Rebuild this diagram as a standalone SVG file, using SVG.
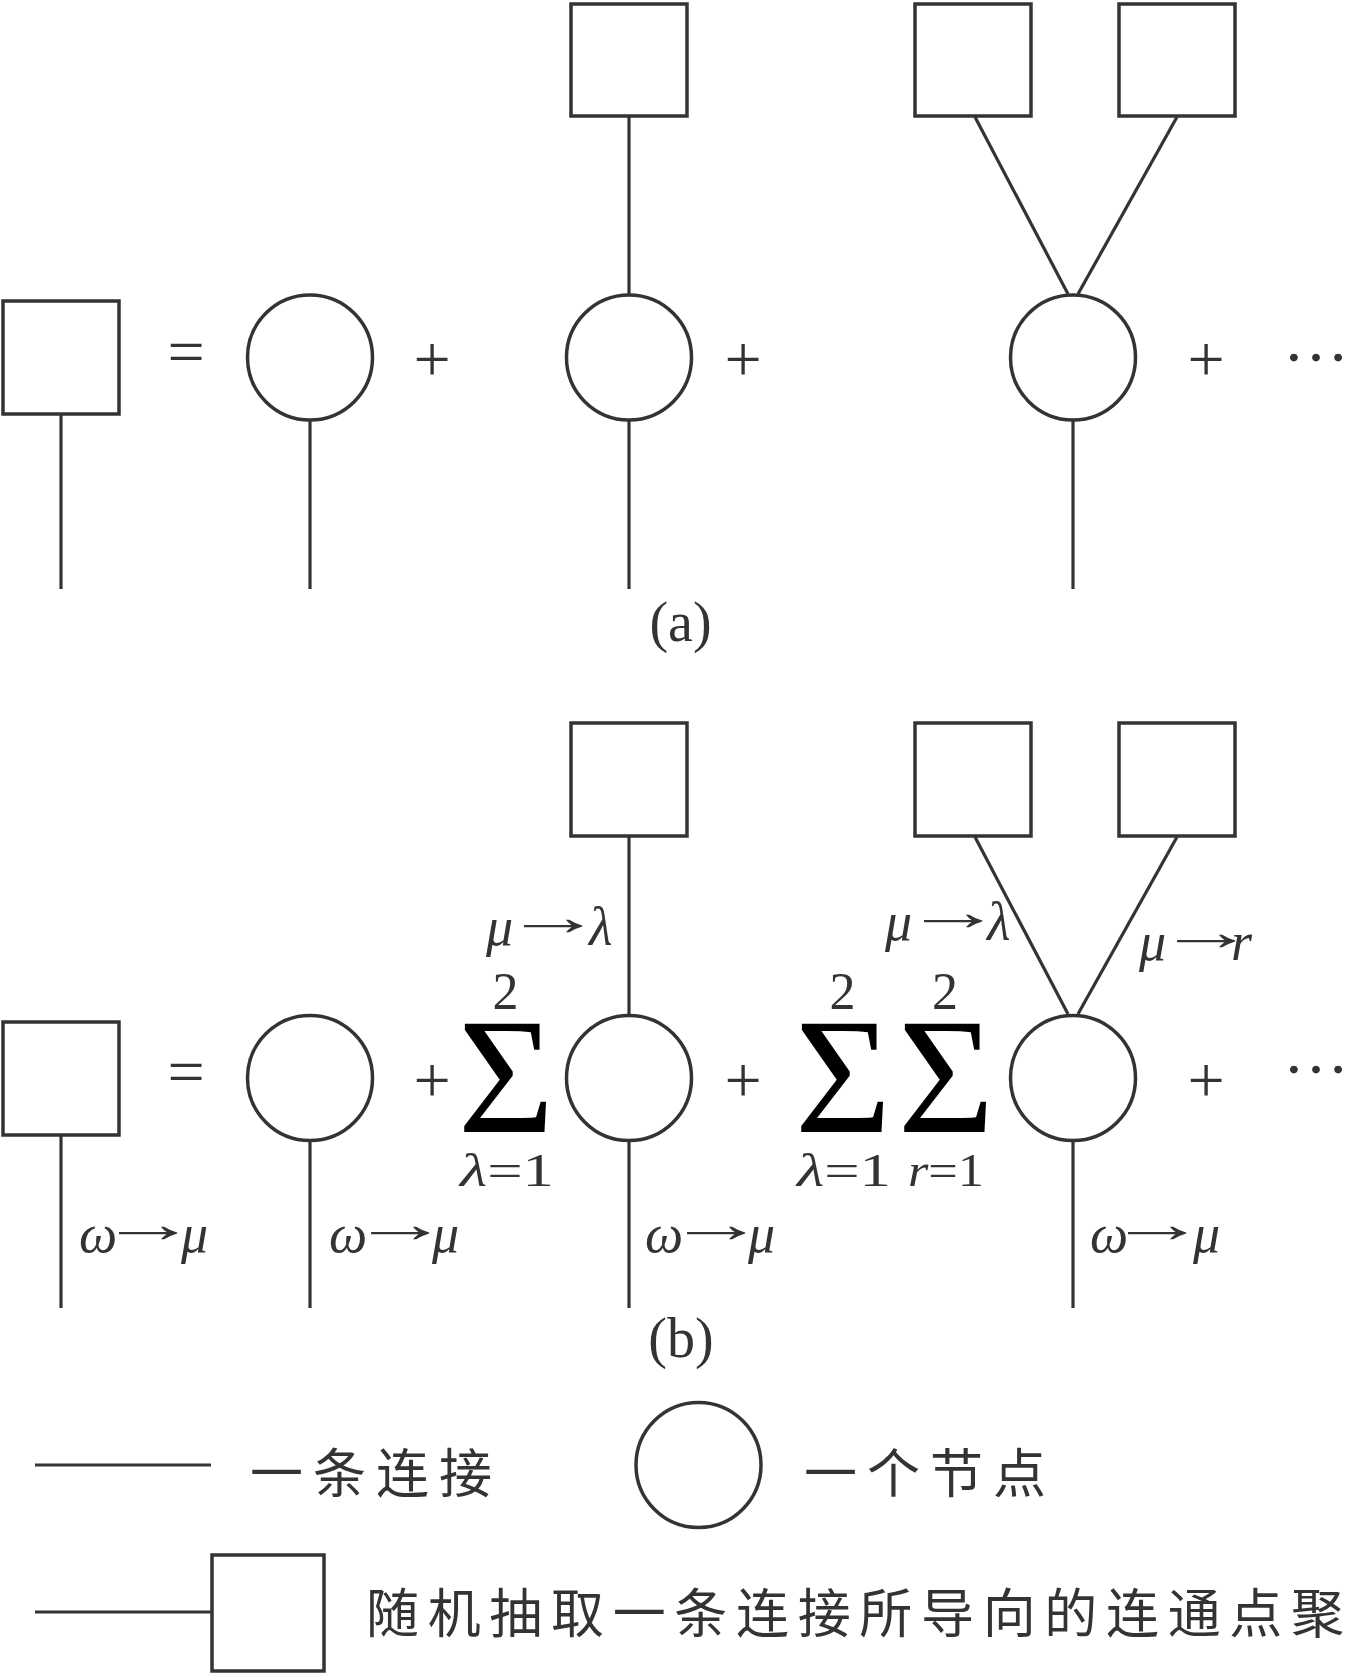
<svg xmlns="http://www.w3.org/2000/svg" width="1358" height="1674" viewBox="0 0 1358 1674">
<style>
.sh{fill:none;stroke:#333;stroke-width:3.5}
.ln{stroke:#333;stroke-width:3.2;fill:none}
.op{font-family:"Liberation Serif","Times New Roman",serif;font-size:66px;fill:#333;text-anchor:middle}
.lb{font-family:"Liberation Serif","Times New Roman",serif;font-size:54px;font-style:italic;fill:#333}
.ar{font-family:"Liberation Serif","Times New Roman",serif;font-size:54px;fill:#333}
.num{font-family:"Liberation Serif","Times New Roman",serif;font-size:52px;fill:#333;text-anchor:middle}
.sig{font-family:"Liberation Serif","Times New Roman",serif;font-size:166px;fill:#000;text-anchor:middle}
.sub{font-family:"Liberation Serif","Times New Roman",serif;font-size:46px;fill:#333}
.cap{font-family:"Liberation Serif","Times New Roman",serif;font-size:56px;fill:#333;text-anchor:middle}
.cjk{font-family:"Noto Sans CJK SC","Noto Sans CJK JP",sans-serif;font-size:53px;fill:#333;letter-spacing:10px}
</style>
<rect width="1358" height="1674" fill="#fff"/>
<g id="connectors">
<line class="ln" x1="61" y1="415" x2="61" y2="589"/>
<line class="ln" x1="310" y1="421" x2="310" y2="589"/>
<line class="ln" x1="629" y1="117" x2="629" y2="294"/>
<line class="ln" x1="629" y1="421" x2="629" y2="589"/>
<line class="ln" x1="975" y1="117" x2="1068" y2="294"/>
<line class="ln" x1="1177" y1="117" x2="1078" y2="294"/>
<line class="ln" x1="1073" y1="421" x2="1073" y2="589"/>
<line class="ln" x1="61" y1="1136" x2="61" y2="1308"/>
<line class="ln" x1="310" y1="1142" x2="310" y2="1308"/>
<line class="ln" x1="629" y1="837" x2="629" y2="1014"/>
<line class="ln" x1="629" y1="1142" x2="629" y2="1308"/>
<line class="ln" x1="975" y1="837" x2="1068" y2="1014"/>
<line class="ln" x1="1177" y1="837" x2="1078" y2="1014"/>
<line class="ln" x1="1073" y1="1142" x2="1073" y2="1308"/>
<line class="ln" x1="35" y1="1465" x2="211" y2="1465"/>
<line class="ln" x1="35" y1="1612" x2="212" y2="1612"/>
</g>
<g id="a-sq0"><rect class="sh" x="3" y="301" width="116" height="113"/></g>
<g id="a-c1"><circle class="sh" cx="310" cy="357.5" r="62.5"/></g>
<g id="a-c2"><circle class="sh" cx="629" cy="357.5" r="62.5"/></g>
<g id="a-sq2"><rect class="sh" x="571" y="4" width="116" height="112"/></g>
<g id="a-c3"><circle class="sh" cx="1073" cy="357.5" r="62.5"/></g>
<g id="a-sq3a"><rect class="sh" x="915" y="4" width="116" height="112"/></g>
<g id="a-sq3b"><rect class="sh" x="1119" y="4" width="116" height="112"/></g>
<g id="a-ops">
<text class="op" x="186" y="373.5">=</text>
<text class="op" x="432" y="381">+</text>
<text class="op" x="743" y="381">+</text>
<text class="op" x="1206" y="381">+</text>
<text class="op" x="1316" y="361" font-size="56">…</text>
<text class="cap" x="680.5" y="641">(a)</text>
</g>
<g id="b-sq0"><rect class="sh" x="3" y="1022" width="116" height="113"/></g>
<g id="b-c1"><circle class="sh" cx="310" cy="1078" r="62.5"/></g>
<g id="b-c2"><circle class="sh" cx="629" cy="1078" r="62.5"/></g>
<g id="b-sq2"><rect class="sh" x="571" y="723" width="116" height="113"/></g>
<g id="b-c3"><circle class="sh" cx="1073" cy="1078" r="62.5"/></g>
<g id="b-sq3a"><rect class="sh" x="915" y="723" width="116" height="113"/></g>
<g id="b-sq3b"><rect class="sh" x="1119" y="723" width="116" height="113"/></g>
<g id="b-ops">
<text class="op" x="186" y="1094">=</text>
<text class="op" x="432" y="1102">+</text>
<text class="op" x="743" y="1102">+</text>
<text class="op" x="1206" y="1102">+</text>
<text class="op" x="1316" y="1073" font-size="56">…</text>
<text class="sig" x="506" y="1132">Σ</text>
<text class="sig" x="843" y="1132">Σ</text>
<text class="sig" x="946" y="1132">Σ</text>
<text class="num" x="505.5" y="1009">2</text>
<text class="num" x="842.5" y="1009">2</text>
<text class="num" x="945" y="1009">2</text>
<text class="sub" x="460" y="1186" textLength="94" lengthAdjust="spacingAndGlyphs"><tspan font-style="italic">λ</tspan>=1</text>
<text class="sub" x="797" y="1186" textLength="94" lengthAdjust="spacingAndGlyphs"><tspan font-style="italic">λ</tspan>=1</text>
<text class="sub" x="908" y="1186" textLength="76" lengthAdjust="spacingAndGlyphs"><tspan font-style="italic">r</tspan>=1</text>
<text class="cap" x="681" y="1357">(b)</text>
</g>
<g id="labels">
<text class="lb" x="79" y="1252">ω</text><text class="ar" transform="translate(99,1242) scale(1.82,1)">→</text><text class="lb" x="181" y="1252">μ</text>
<text class="lb" x="329" y="1252">ω</text><text class="ar" transform="translate(351,1242) scale(1.82,1)">→</text><text class="lb" x="432" y="1252">μ</text>
<text class="lb" x="645" y="1252">ω</text><text class="ar" transform="translate(667,1242) scale(1.82,1)">→</text><text class="lb" x="748" y="1252">μ</text>
<text class="lb" x="1090" y="1252">ω</text><text class="ar" transform="translate(1108,1242) scale(1.82,1)">→</text><text class="lb" x="1193" y="1252">μ</text>
<text class="lb" x="486" y="945">μ</text><text class="ar" transform="translate(504,935) scale(1.82,1)">→</text><text class="lb" x="589" y="945">λ</text>
<text class="lb" x="885" y="940">μ</text><text class="ar" transform="translate(904,930) scale(1.82,1)">→</text><text class="lb" x="987" y="940">λ</text>
<text class="lb" x="1139" y="960">μ</text><text class="ar" transform="translate(1157,950) scale(1.82,1)">→</text><text class="lb" x="1231" y="960">r</text>
</g>
<g id="legend-link">
<text class="cjk" x="250" y="1493">一条连接</text>
</g>
<g id="legend-node">
<circle class="sh" cx="698.5" cy="1465" r="62.5"/>
<text class="cjk" x="804" y="1493">一个节点</text>
</g>
<g id="legend-cluster">
<rect class="sh" x="212" y="1555" width="112" height="116"/>
<text class="cjk" x="366" y="1633" letter-spacing="0" textLength="988" lengthAdjust="spacing">随机抽取一条连接所导向的连通点聚</text>
</g>
</svg>
